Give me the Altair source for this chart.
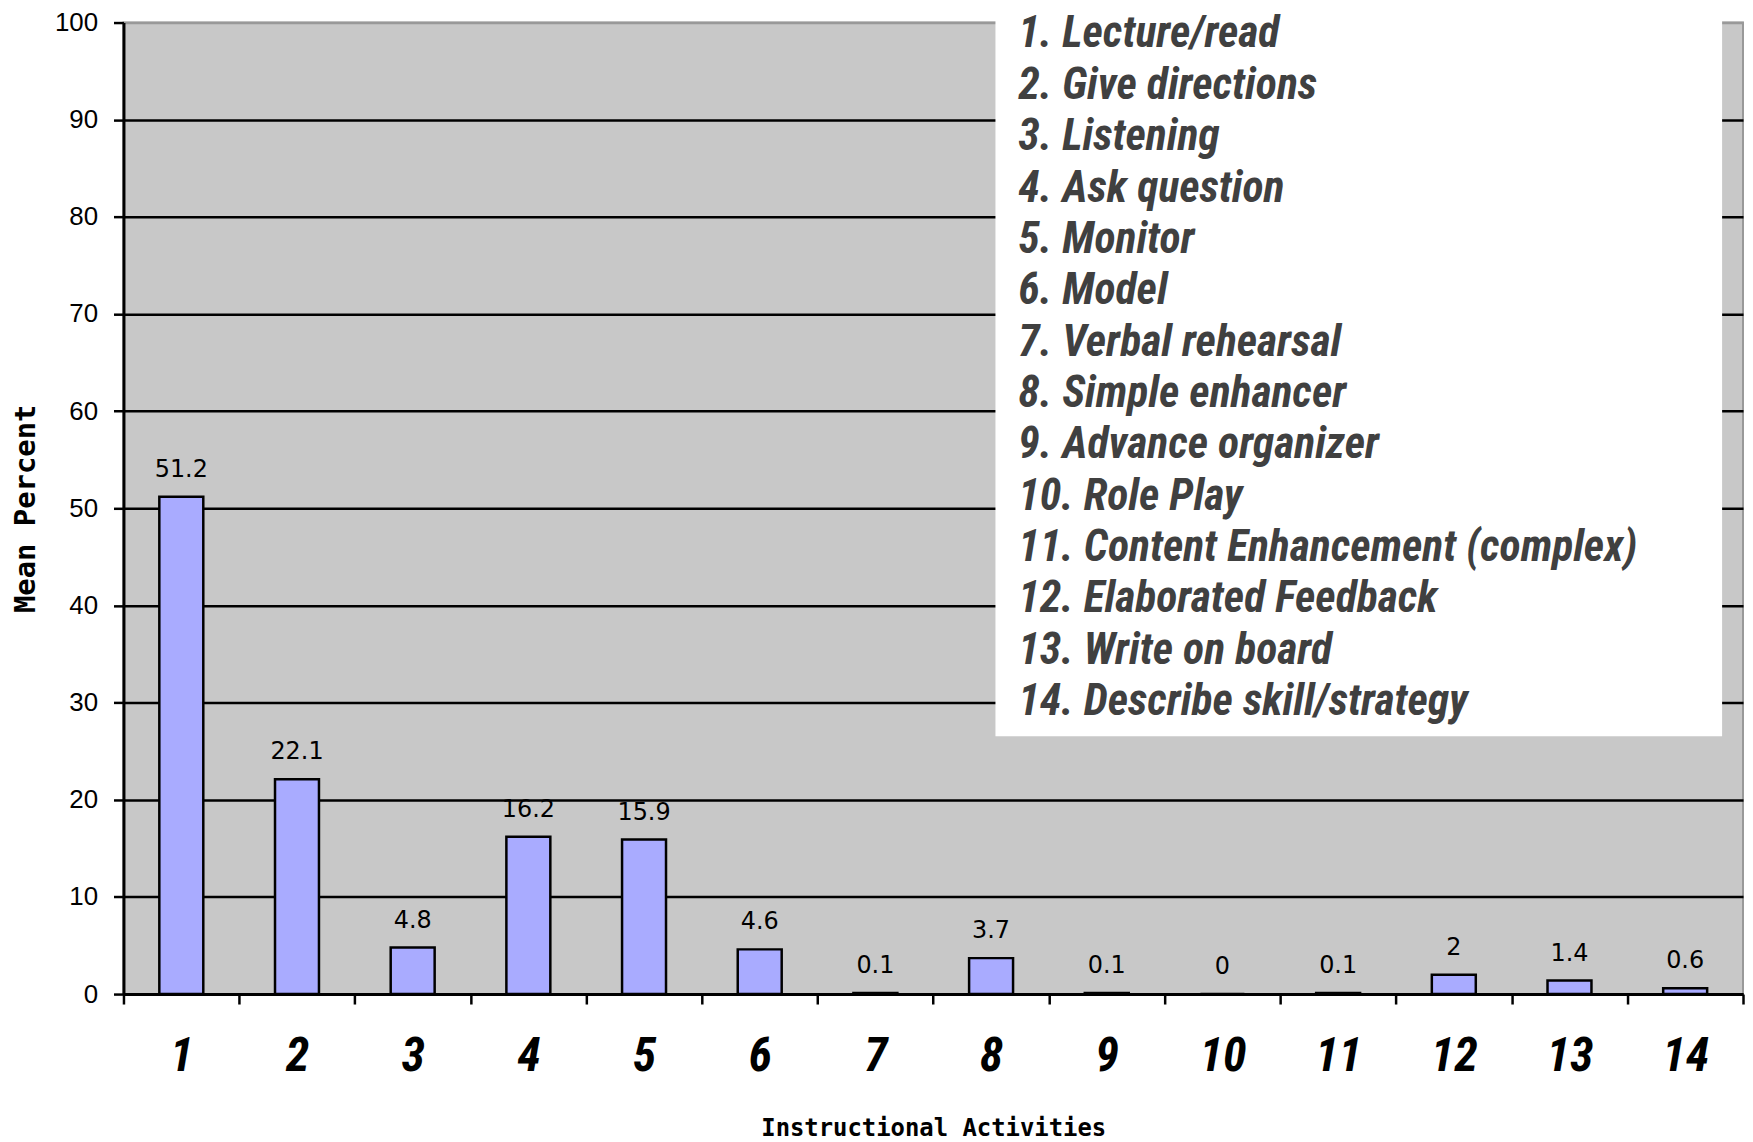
import altair as alt
import pandas as pd

categories = [str(i) for i in range(1, 15)]
values = [51.2, 22.1, 4.8, 16.2, 15.9, 4.6, 0.1, 3.7, 0.1, 0, 0.1, 2, 1.4, 0.6]
value_labels = ["51.2", "22.1", "4.8", "16.2", "15.9", "4.6", "0.1", "3.7", "0.1", "0", "0.1", "2", "1.4", "0.6"]
activities = [
    "1. Lecture/read",
    "2. Give directions",
    "3. Listening",
    "4. Ask question",
    "5. Monitor",
    "6. Model",
    "7. Verbal rehearsal",
    "8. Simple enhancer",
    "9. Advance organizer",
    "10. Role Play",
    "11. Content  Enhancement (complex)",
    "12. Elaborated Feedback",
    "13. Write on board",
    "14. Describe skill/strategy",
]
y_ticks = list(range(0, 101, 10))

df = pd.DataFrame({"cat": categories, "value": values, "label": value_labels})

W, H = 1627, 976
CONDENSED = "Roboto Condensed"

x_enc = alt.X(
    "cat:N",
    sort=categories,
    scale=alt.Scale(paddingInner=0, paddingOuter=0),
    axis=alt.Axis(
        title="Instructional Activities",
        labelAngle=0,
        tickBand="extent",
        tickSize=10,
        tickWidth=2.5,
        tickColor="black",
        domainColor="black",
        domainWidth=3,
        grid=False,
        labelFont=CONDENSED,
        labelFontSize=48,
        labelFontStyle="italic",
        labelFontWeight="bold",
        labelColor="black",
        labelBaseline="alphabetic",
        labelPadding=67,
        titleFont="DejaVu Sans Mono",
        titleFontSize=24,
        titleFontWeight="bold",
        titleColor="black",
        titleX=W / 2,
        titleY=142,
        titleBaseline="alphabetic",
        titleAlign="center",
    ),
)

y_enc = alt.Y(
    "value:Q",
    scale=alt.Scale(domain=[0, 100], nice=False, zero=True),
    axis=alt.Axis(
        title="Mean Percent",
        values=y_ticks,
        tickSize=10,
        tickWidth=2.5,
        tickColor="black",
        domainColor="black",
        domainWidth=3,
        grid=True,
        gridColor={"condition": {"test": "datum.value === 100", "value": "#999999"}, "value": "black"},
        gridWidth=2.5,
        gridOpacity=1,
        labelFont="Liberation Sans",
        labelFontSize=26,
        labelColor="black",
        labelPadding=16,
        titleFont="DejaVu Sans Mono",
        titleFontSize=29,
        titleFontWeight="bold",
        titleColor="black",
        titleAngle=270,
        titleX=-89,
        titleY=H / 2,
        titleBaseline="alphabetic",
        titleAlign="center",
    ),
)

base = alt.Chart(df)

bars = base.mark_bar(
    width=alt.RelativeBandSize(0.38),
    fill="#a9abff",
    stroke="black",
    strokeWidth=2.5,
).encode(x=x_enc, y=y_enc)

labels = base.mark_text(
    dy=-20,
    baseline="alphabetic",
    align="center",
    font="DejaVu Sans",
    fontSize=24,
    color="black",
).encode(x=alt.X("cat:N", sort=categories), y="value:Q", text="label:N")

box_df = pd.DataFrame({"k": [0]})
box = alt.Chart(box_df).mark_rect(fill="white").encode(
    x=alt.value(876), x2=alt.value(1606), y=alt.value(-12), y2=alt.value(717)
)

legend_text = alt.Chart(box_df).mark_text(
    text=activities,
    lineHeight=51.6,
    align="left",
    baseline="alphabetic",
    font=CONDENSED,
    fontSize=44,
    fontStyle="italic",
    fontWeight="bold",
    color="#404040",
).encode(x=alt.value(899), y=alt.value(25))

chart = alt.layer(bars, labels, box, legend_text).properties(
    width=W,
    height=H,
    padding={"left": 116, "top": 12, "right": 2, "bottom": 146},
    autosize=alt.AutoSizeParams(type="none"),
).configure_view(
    fill="#c8c8c8", stroke="#999999", strokeWidth=2
)

chart.save("out.html", embed_options={"renderer": "svg", "actions": False})
